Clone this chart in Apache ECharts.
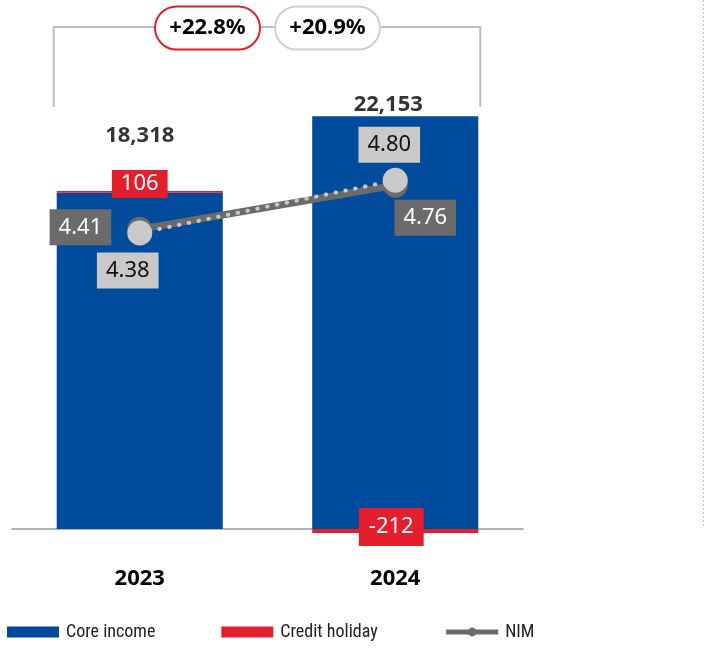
<!DOCTYPE html>
<html>
<head>
<meta charset="utf-8">
<style>
  html, body { margin: 0; padding: 0; background: #fff; }
  #chart { width: 706px; height: 650px; }
</style>
<script src="https://cdn.jsdelivr.net/npm/echarts@6/dist/echarts.min.js"></script>
</head>
<body>
<div id="chart"></div>
<script>
// Income split by year, with net interest margin on a secondary scale
const years = ['2023', '2024'];
const coreIncome = [18212, 22365];
const creditHoliday = [106, -212];
const totalIncome = [18318, 22153];
const nimReported = [4.41, 4.76];
const nimCore = [4.38, 4.80];
const growthLabels = ['+22.8%', '+20.9%'];

const BLUE = '#004b9b';
const RED = '#e31e2d';
const DARK = '#6b6b6b';
const LIGHT = '#c9c9c9';
const NUM_FONT = '"Noto Sans", "DejaVu Sans", sans-serif';
const NARROW_FONT = '"Roboto Condensed", Roboto, sans-serif';

// label placement per year (pixel offsets around each point)
const totalOffsets = [[0, -39], [-7, 1]];
const reportedLabelPos = [
  { position: 'left', distance: 16, offset: [0, -2] },
  { position: 'bottom', distance: 0, offset: [30, 2] }
];
const coreLabelPos = [
  { position: 'bottom', distance: 0, offset: [-12, 7] },
  { position: 'top', distance: 0, offset: [-6, -5] }
];
const creditLabelStyle = [
  { position: 'inside', offset: [0, -8], padding: [1, 9] },
  { position: 'inside', offset: [-4, -4], padding: [6, 10] }
];

const chart = echarts.init(document.getElementById('chart'), null, { renderer: 'canvas' });

const boxLabel = (bg, fg) => ({
  show: true,
  backgroundColor: bg,
  color: fg,
  fontFamily: NUM_FONT,
  fontSize: 22,
  lineHeight: 26,
  padding: [5, 9]
});

const option = {
  animation: false,
  backgroundColor: '#fff',
  grid: { left: 12, right: 183, top: 86, bottom: 84, containLabel: false },
  legend: {
    left: 7,
    top: 623,
    width: 1200,
    padding: 0,
    itemGap: 66,
    itemWidth: 52,
    itemHeight: 11,
    lineStyle: { width: 5 },
    data: [
      { name: 'Core income', icon: 'rect' },
      { name: 'Credit holiday', icon: 'rect' },
      { name: 'NIM' }
    ],
    textStyle: { fontFamily: NARROW_FONT, fontSize: 18, color: '#222', padding: [0, 0, 0, 2] }
  },
  xAxis: {
    type: 'category',
    data: years,
    axisLine: { onZero: true, lineStyle: { color: '#999', width: 1.5 } },
    axisTick: { show: false },
    axisLabel: { margin: 2, color: '#000', fontFamily: NUM_FONT, fontWeight: 'bold', fontSize: 22 }
  },
  yAxis: [
    { type: 'value', min: -2000, max: 24000, show: false, splitLine: { show: false } },
    { type: 'value', min: 1.73, max: 5.55, show: false, splitLine: { show: false } }
  ],
  series: [
    {
      name: 'Core income',
      type: 'bar',
      stack: 'income',
      barWidth: '65%',
      itemStyle: { color: BLUE },
      data: coreIncome
    },
    {
      name: 'Credit holiday',
      type: 'bar',
      stack: 'income',
      barWidth: '65%',
      itemStyle: { color: RED },
      z: 3,
      data: creditHoliday.map((v, i) => ({
        value: v,
        label: Object.assign(boxLabel(RED, '#fff'), creditLabelStyle[i], {
          formatter: p => String(p.value)
        })
      }))
    },
    {
      name: 'Total',
      type: 'scatter',
      symbolSize: 0,
      z: 4,
      data: totalIncome.map((v, i) => ({
        value: v,
        label: {
          show: true,
          position: 'top',
          offset: totalOffsets[i],
          color: '#000',
          fontFamily: NUM_FONT,
          fontWeight: 'bold',
          fontSize: 22,
          formatter: p => p.value.toLocaleString('en-US')
        }
      }))
    },
    {
      name: 'NIM',
      type: 'line',
      yAxisIndex: 1,
      symbol: 'circle',
      symbolSize: 25,
      itemStyle: { color: DARK },
      lineStyle: { color: DARK, width: 7 },
      z: 5,
      data: nimReported.map((v, i) => ({
        value: v,
        label: Object.assign(boxLabel(DARK, '#fff'), reportedLabelPos[i], {
          formatter: p => p.value.toFixed(2)
        })
      }))
    },
    {
      name: 'Core NIM',
      type: 'line',
      yAxisIndex: 1,
      symbol: 'circle',
      symbolSize: 25,
      itemStyle: { color: LIGHT },
      lineStyle: { color: LIGHT, width: 4, type: [0.5, 9.5], cap: 'round' },
      z: 6,
      data: nimCore.map((v, i) => ({
        value: v,
        label: Object.assign(boxLabel(LIGHT, '#111'), coreLabelPos[i], {
          formatter: p => p.value.toFixed(2)
        })
      }))
    }
  ]
};

chart.setOption(option);

// Growth bracket above the bars, anchored to the bar edges
const c0 = chart.convertToPixel({ xAxisIndex: 0 }, years[0]);
const c1 = chart.convertToPixel({ xAxisIndex: 0 }, years[1]);
const band = c1 - c0;
const halfBar = band * 0.65 / 2;
const bx0 = c0 - halfBar - 3;
const bx1 = c1 + halfBar + 2;
const bracketTop = 27;
const bracketBottom = 107;
const mid = (c0 + c1) / 2;
const pillW = 105, pillH = 43;

const pill = (cx, text, stroke) => ({
  type: 'group',
  x: cx - pillW / 2,
  y: bracketTop - pillH / 2 + 1,
  children: [
    {
      type: 'rect',
      z: 20,
      shape: { x: 0, y: 0, width: pillW, height: pillH, r: pillH / 2 },
      style: { fill: '#fff', stroke: stroke, lineWidth: 2 }
    },
    {
      type: 'text',
      z: 21,
      x: pillW / 2,
      y: pillH / 2,
      style: {
        text: text,
        fill: '#000',
        font: 'bold 22px ' + NUM_FONT,
        align: 'center',
        verticalAlign: 'middle'
      }
    }
  ]
});

chart.setOption({
  graphic: [
    {
      type: 'polyline',
      z: 10,
      shape: { points: [[bx0, bracketBottom], [bx0, bracketTop], [bx1, bracketTop], [bx1, bracketBottom]] },
      style: { stroke: '#bdbdbd', lineWidth: 2, fill: null }
    },
    pill(mid - 60, growthLabels[0], RED),
    pill(mid + 60, growthLabels[1], '#cfcfcf'),
    {
      type: 'line',
      z: 10,
      shape: { x1: 703.5, y1: 0, x2: 703.5, y2: 527 },
      style: { stroke: '#c4c4c4', lineWidth: 1, lineDash: [2, 2] }
    }
  ]
});
</script>
</body>
</html>
